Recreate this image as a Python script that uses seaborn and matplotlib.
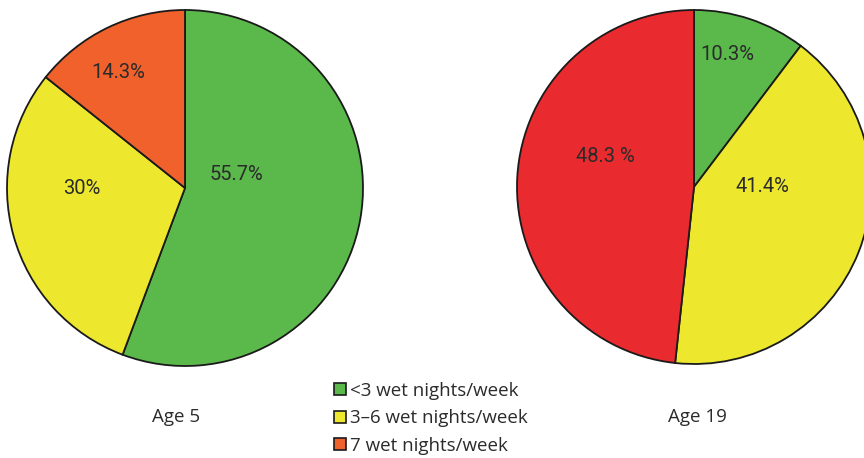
import matplotlib
matplotlib.use("Agg")
import matplotlib.pyplot as plt
from matplotlib.patches import Patch
import seaborn as sns

# Share of children by number of wet nights per week
categories = ["<3 wet nights/week", "3\u20136 wet nights/week", "7 wet nights/week"]
age5_values = [55.7, 30.0, 14.3]
age19_values = [10.3, 41.4, 48.3]
age5_labels = ["55.7%", "30%", "14.3%"]
age19_labels = ["10.3%", "41.4%", "48.3 %"]
age_titles = ["Age 5", "Age 19"]

green = "#5bb94b"
yellow = "#ede82e"
orange = "#f0612c"
red = "#e92a2f"
age5_colors = [green, yellow, orange]
age19_colors = [green, yellow, red]

sns.set_theme(style="white")
plt.rcParams["font.family"] = ["Open Sans", "DejaVu Sans"]

W, H = 864, 458
fig = plt.figure(figsize=(W / 100, H / 100), dpi=100)
ax = fig.add_axes([0, 0, 1, 1])

def py(y):
    return H - y

wedge_style = dict(edgecolor="#1a1a1a", linewidth=1.3)

ax.pie(age5_values, colors=age5_colors, startangle=90, counterclock=False,
       center=(185, py(188)), radius=178, wedgeprops=wedge_style)
ax.pie(age19_values, colors=age19_colors, startangle=90, counterclock=False,
       center=(694, py(187)), radius=177, wedgeprops=wedge_style)

label_font = dict(family=["Roboto", "DejaVu Sans"], fontsize=14.5,
                  color="#2b2b2b", ha="center", va="center")
age5_pos = [(236, 174), (82, 188), (118, 72)]
age19_pos = [(727, 55), (762, 187), (605, 156)]
for txt, (x, y) in zip(age5_labels, age5_pos):
    ax.text(x, py(y), txt, **label_font)
for txt, (x, y) in zip(age19_labels, age19_pos):
    ax.text(x, py(y), txt, **label_font)

ax.text(176, py(417), age_titles[0], fontsize=13.5, color="#2b2b2b", ha="center", va="center")
ax.text(697, py(417), age_titles[1], fontsize=13.5, color="#2b2b2b", ha="center", va="center")

handles = [Patch(facecolor=c, edgecolor="#1a1a1a", linewidth=1.2) for c in [green, yellow, orange]]
leg = ax.legend(handles, categories, loc="upper left",
                bbox_to_anchor=(334 / W, 1 - 382 / H), bbox_transform=fig.transFigure,
                frameon=False, fontsize=13.5, handlelength=0.62, handleheight=0.62,
                handletextpad=0.25, labelspacing=0.5, borderpad=0, borderaxespad=0)
for t in leg.get_texts():
    t.set_color("#2b2b2b")

ax.set_xlim(0, W)
ax.set_ylim(0, H)
ax.set_aspect("equal")
ax.axis("off")

fig.savefig("out.png", dpi=100)
